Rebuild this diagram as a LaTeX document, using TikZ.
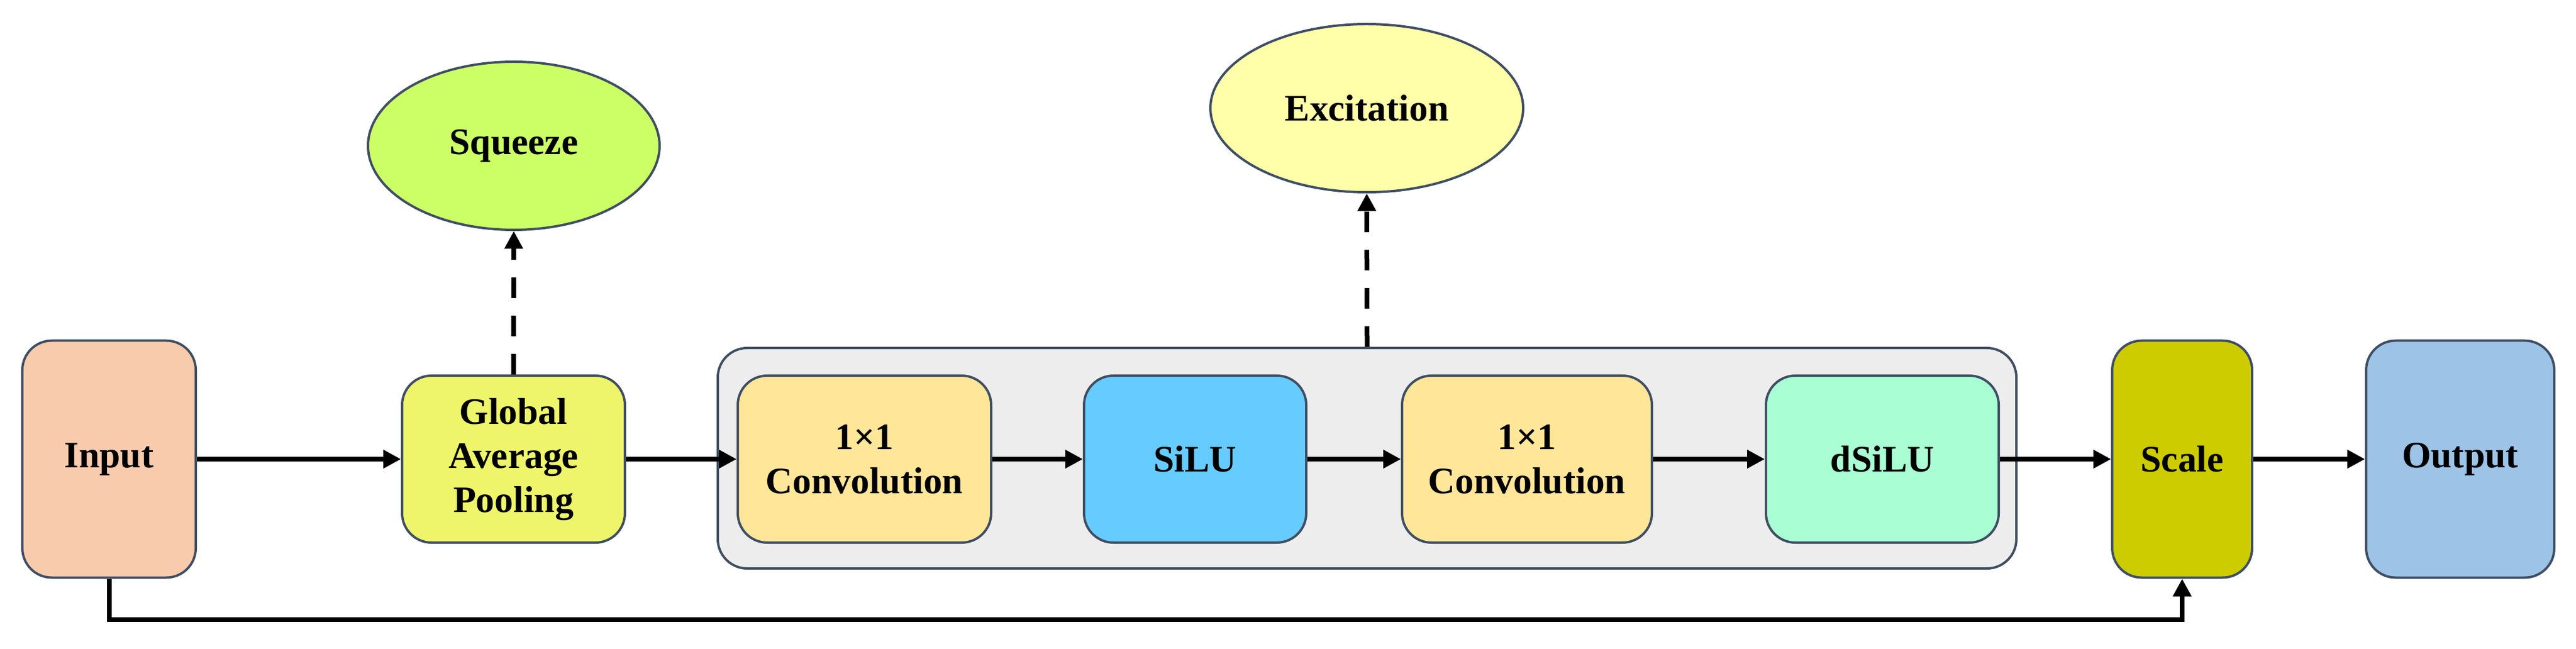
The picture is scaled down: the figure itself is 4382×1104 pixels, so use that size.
\documentclass[tikz,border=0pt]{standalone}
\usepackage{fontspec}
\setmainfont{Liberation Serif}
\usetikzlibrary{arrows.meta,shapes.geometric}
\definecolor{edge}{HTML}{3F4E63}
\definecolor{inputc}{HTML}{F8CBAD}
\definecolor{gapc}{HTML}{EEF56A}
\definecolor{squeezec}{HTML}{CCFF66}
\definecolor{excitec}{HTML}{FFFFAA}
\definecolor{groupc}{HTML}{EDEDED}
\definecolor{convc}{HTML}{FFE699}
\definecolor{siluc}{HTML}{66CCFF}
\definecolor{dsiluc}{HTML}{A9FFD3}
\definecolor{scalec}{HTML}{CCCC00}
\definecolor{outputc}{HTML}{9DC3E6}
\begin{document}
\begin{tikzpicture}[x=0.2pt,y=-0.2pt,
  box/.style={draw=edge,line width=0.8pt,rounded corners=10pt,align=center,inner sep=0pt,
    font=\fontsize{12.7}{15}\selectfont\bfseries},
  tall/.style={box,minimum height=80.6pt},
  small/.style={box,minimum height=56.8pt},
  oval/.style={ellipse,draw=edge,line width=0.8pt,inner sep=0pt,minimum height=57.2pt,
    font=\fontsize{12.7}{15}\selectfont\bfseries},
  arr/.style={line width=1.6pt,-{Triangle[length=6pt,width=6pt]}},
  dasharr/.style={arr,dash pattern=on 7pt off 6pt}]
\useasboundingbox (0,0) rectangle (4382,1104);

\node[box,fill=groupc,minimum width=441.8pt,minimum height=75pt] (grp) at (2325.5,779.5) {};

\node[tall,fill=inputc,minimum width=59pt] (in) at (185.5,781) {Input};
\node[small,fill=gapc,minimum width=75.8pt] (gap) at (873.5,781) {Global\\Average\\Pooling};
\node[small,fill=convc,minimum width=86.2pt] (conv1) at (1470.5,781) {1×1\\Convolution};
\node[small,fill=siluc,minimum width=75.6pt] (silu) at (2033,781) {SiLU};
\node[small,fill=convc,minimum width=85pt] (conv2) at (2597.5,781) {1×1\\Convolution};
\node[small,fill=dsiluc,minimum width=79.2pt] (dsilu) at (3202,781) {dSiLU};
\node[tall,fill=scalec,minimum width=47.6pt] (scale) at (3712,781) {Scale};
\node[tall,fill=outputc,minimum width=64pt] (out) at (4185,781) {Output};

\node[oval,fill=squeezec,minimum width=99.2pt] (sq) at (874,248) {Squeeze};
\node[oval,fill=excitec,minimum width=106.4pt] (ex) at (2325,184) {Excitation};

\draw[arr] (in) -- (gap);
\draw[arr] (gap) -- (conv1);
\draw[arr] (conv1) -- (silu);
\draw[arr] (silu) -- (conv2);
\draw[arr] (conv2) -- (dsilu);
\draw[arr] (dsilu) -- (scale);
\draw[arr] (scale) -- (out);

\draw[dasharr] (gap.north) -- (sq.south);
\draw[dasharr] (grp.north) -- (ex.south);

% skip connection
\coordinate (skip) at (3712,1054);
\draw[arr] (in.south) |- (skip) -- (scale.south);
\end{tikzpicture}
\end{document}
